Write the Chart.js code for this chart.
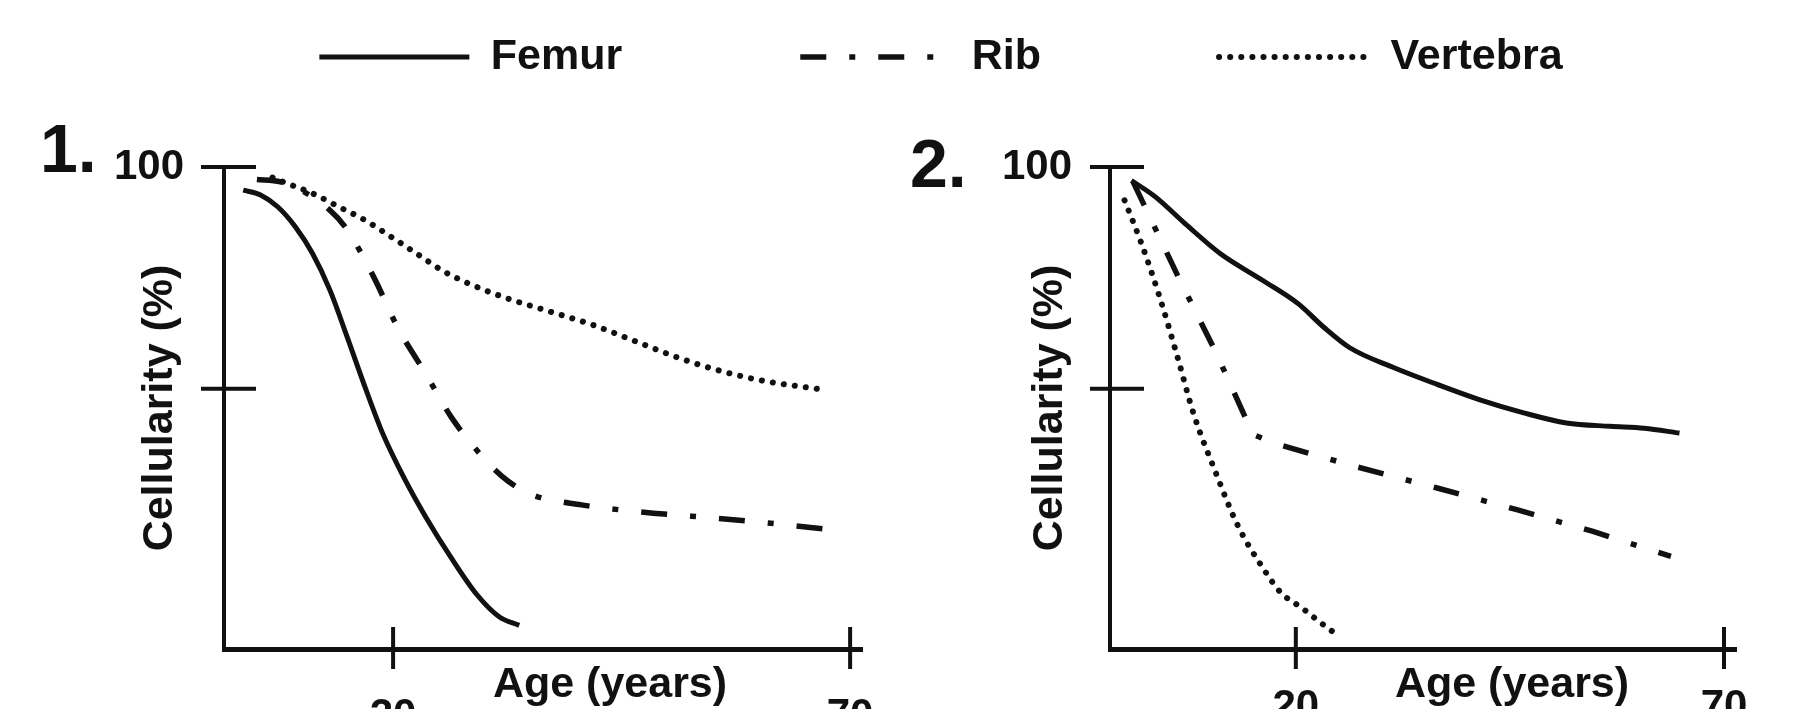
<!DOCTYPE html>
<html>
<head>
<meta charset="utf-8">
<title>Cellularity by age</title>
<script src="https://cdn.jsdelivr.net/npm/chart.js@4.4.1/dist/chart.umd.min.js"></script>
<style>
  html, body { margin: 0; padding: 0; background: #fff; }
  #wrap { position: relative; width: 1808px; height: 709px; background: #fff; }
  #wrap canvas { position: absolute; left: 0; top: 0; }
</style>
</head>
<body>
<div id="wrap">
  <canvas id="panel1" width="1808" height="709"></canvas>
  <canvas id="panel2" width="1808" height="709"></canvas>
</div>
<script>
// Two panels of marrow cellularity against age, drawn as two overlaid charts.
// Panel 1 carries the shared legend across the top.

const INK = '#111';
const FAMILY = "'Liberation Sans', Arial, Helvetica, sans-serif";

// Panel 1 curves: age (years) and cellularity (%)
const femur1Age = [3.6, 5.5, 7.4, 9.3, 11.2, 13.1, 15.0, 16.9, 18.8, 21.2, 23.6, 26.4, 29.2, 31.6, 33.8];
const femur1Cell = [95.2, 94.2, 91.7, 87.6, 82.0, 74.4, 64.6, 54.5, 45.0, 35.5, 27.3, 18.8, 11.2, 6.7, 4.9];
const rib1Age = [5.1, 7.7, 13.1, 15.0, 17.9, 20.5, 23.6, 26.4, 30.4, 32.6, 35.2, 40.6, 46.8, 55.6, 61.3, 68.2];
const rib1Cell = [97.4, 96.9, 91.0, 86.9, 77.1, 66.7, 57.0, 48.0, 38.6, 34.8, 32.0, 29.9, 28.5, 27.1, 26.1, 24.7];
const vert1Age = [6.8, 8.4, 11.2, 14.1, 16.9, 19.8, 22.6, 25.4, 28.3, 32.1, 36.8, 41.6, 46.3, 51.1, 55.8, 60.6, 66.7];
const vert1Cell = [97.8, 96.6, 94.5, 91.7, 89.0, 85.5, 82.0, 78.5, 75.8, 73.0, 70.2, 67.4, 64.0, 60.5, 57.7, 55.6, 53.9];

// Panel 2 curves
const femur2Age = [0.8, 3.6, 7.1, 11.2, 16.2, 20.3, 23.3, 26.3, 31.4, 36.5, 41.5, 46.6, 51.6, 56.7, 60.7, 64.8];
const femur2Cell = [97.2, 93.8, 88.2, 82.0, 76.4, 71.6, 66.7, 62.5, 58.4, 54.9, 51.7, 49.0, 46.9, 46.2, 45.8, 44.8];
const rib2Age = [1.0, 6.3, 10.6, 15.0, 18.0, 27.1, 36.5, 45.8, 54.7, 63.8];
const rib2Cell = [96.9, 77.1, 61.8, 44.5, 42.4, 37.8, 33.4, 28.9, 24.4, 19.2];
const vert2Age = [0.0, 2.0, 4.1, 6.1, 8.1, 10.6, 13.2, 16.2, 18.2, 20.8, 22.8, 24.6];
const vert2Cell = [93.1, 84.0, 73.0, 61.1, 48.6, 36.8, 25.7, 16.7, 11.8, 8.4, 5.6, 3.2];

// Axis ticks: only 100 carries a label on the y axis
const X_TICKS = [20, 70];
const Y_TICKS = [54, 100];
const Y_LABELED = [100];

const SERIES = ['Femur', 'Rib', 'Vertebra'];

const LINE_STYLE = {
  Femur: { borderWidth: 5, borderDash: [], borderCapStyle: 'butt', cubicInterpolationMode: 'monotone' },
  Rib: { borderWidth: 5.5, borderDash: [26, 23, 6, 23], borderCapStyle: 'butt', cubicInterpolationMode: 'monotone' },
  Vertebra: { borderWidth: 6, borderDash: [0.1, 11], borderCapStyle: 'round', cubicInterpolationMode: 'monotone' }
};

function points(ages, cells) {
  return ages.map((a, i) => ({ x: a, y: cells[i] }));
}

function dataset(name, ages, cells, extra) {
  return Object.assign({
    label: name,
    data: points(ages, cells),
    borderColor: INK,
    backgroundColor: 'transparent',
    pointRadius: 0,
    fill: false,
    borderJoinStyle: 'round'
  }, LINE_STYLE[name], extra || {});
}

// legend samples take dash, cap and width from the line itself
function legendLabels(chart) {
  const items = Chart.defaults.plugins.legend.labels.generateLabels(chart);
  return items.map(item => {
    const ds = chart.data.datasets[item.datasetIndex];
    return Object.assign(item, {
      strokeStyle: INK,
      fillStyle: 'transparent',
      lineDash: ds.borderDash,
      lineCap: ds.borderCapStyle,
      lineWidth: ds.borderWidth
    });
  });
}

// tick marks that cross the axis line on both sides
const crossTicks = {
  id: 'crossTicks',
  afterDatasetsDraw(chart, args, opts) {
    const { ctx } = chart;
    const x = chart.scales.x, y = chart.scales.y;
    ctx.save();
    ctx.strokeStyle = INK;
    ctx.lineWidth = opts.width;
    ctx.beginPath();
    x.ticks.forEach(t => {
      const px = x.getPixelForValue(t.value);
      ctx.moveTo(px, x.top - opts.up);
      ctx.lineTo(px, x.top + opts.down);
    });
    y.ticks.forEach(t => {
      const py = y.getPixelForValue(t.value);
      ctx.moveTo(y.right - opts.left, py);
      ctx.lineTo(y.right + opts.right, py);
    });
    ctx.stroke();
    ctx.restore();
  }
};

// panel number and the x axis title
const panelText = {
  id: 'panelText',
  afterDraw(chart, args, opts) {
    const ctx = chart.ctx;
    ctx.save();
    ctx.fillStyle = INK;
    ctx.textBaseline = 'alphabetic';
    ctx.textAlign = 'left';
    ctx.font = `bold 68px ${FAMILY}`;
    ctx.fillText(opts.number, opts.numberX, opts.numberY);
    ctx.textAlign = 'center';
    ctx.font = `bold 43px ${FAMILY}`;
    ctx.fillText(opts.title, opts.titleX, opts.titleY);
    ctx.restore();
  }
};

// wide legend spacing comes from labels.padding; lift the box top (the bottom
// stays put so the legend clip still covers the row)
const legendNudge = {
  id: 'legendNudge',
  afterLayout(chart, args, opts) {
    const lg = chart.legend;
    if (!lg) return;
    lg.left += opts.dx;
    lg.right += opts.dx;
    lg.top += opts.dy;
  }
};

function scales(p) {
  const tickFont = { family: FAMILY, size: 42, weight: 'bold' };
  return {
    x: {
      type: 'linear',
      min: p.xMin,
      max: p.xMax,
      afterBuildTicks: s => { s.ticks = X_TICKS.map(v => ({ value: v })); },
      afterFit: s => { s.height = 709 - 649; },
      grid: { display: false },
      border: { display: true, color: INK, width: 5 },
      ticks: { color: INK, font: tickFont, padding: p.xLabelPad, maxRotation: 0, callback: v => String(v) }
    },
    y: {
      type: 'linear',
      min: 0,
      max: 100,
      afterBuildTicks: s => { s.ticks = Y_TICKS.map(v => ({ value: v })); },
      afterFit: s => { s.width = p.yWidth; },
      grid: { display: false },
      border: { display: true, color: INK, width: 4 },
      ticks: { color: INK, font: tickFont, padding: p.yLabelPad, callback: v => (Y_LABELED.includes(v) ? String(v) : '') },
      title: {
        display: true,
        text: 'Cellularity (%)',
        color: INK,
        font: { family: FAMILY, size: 43, weight: 'bold' },
        padding: { top: p.yTitlePad, bottom: 0 }
      }
    }
  };
}

// ---- panel 1 (with legend) ----
const scales1 = scales({ xMin: 1.5, xMax: 71.3, xLabelPad: 34, yWidth: 224, yLabelPad: 32, yTitlePad: 134 });
// empty right-hand axis keeps the plot on the left half while the legend spans the page
scales1.gap = {
  type: 'linear',
  position: 'right',
  display: true,
  grid: { display: false },
  border: { display: false },
  ticks: { display: false },
  afterFit: s => { s.width = 1808 - 862; }
};

new Chart(document.getElementById('panel1'), {
  type: 'line',
  data: {
    datasets: [
      dataset(SERIES[0], femur1Age, femur1Cell),
      dataset(SERIES[1], rib1Age, rib1Cell),
      dataset(SERIES[2], vert1Age, vert1Cell)
    ]
  },
  options: {
    responsive: false,
    animation: false,
    layout: { padding: { left: 0, right: 0, top: 0, bottom: 0 } },
    scales: scales1,
    plugins: {
      tooltip: { enabled: false },
      legend: {
        display: true,
        position: 'top',
        maxHeight: 167,
        labels: {
          usePointStyle: true,
          pointStyle: 'line',
          pointStyleWidth: 150,
          padding: 178,
          color: INK,
          font: { family: FAMILY, size: 43, weight: 'bold' },
          generateLabels: legendLabels
        }
      },
      legendNudge: { dx: 37, dy: -142.5 },
      crossTicks: { width: 4, up: 22, down: 20, left: 23, right: 32 },
      panelText: { number: '1.', numberX: 40, numberY: 172, title: 'Age (years)', titleX: 610, titleY: 697 }
    }
  },
  plugins: [legendNudge, crossTicks, panelText]
});

// ---- panel 2 ----
new Chart(document.getElementById('panel2'), {
  type: 'line',
  data: {
    datasets: [
      dataset(SERIES[0], femur2Age, femur2Cell),
      dataset(SERIES[1], rib2Age, rib2Cell, { cubicInterpolationMode: 'default', tension: 0 }),
      dataset(SERIES[2], vert2Age, vert2Cell)
    ]
  },
  options: {
    responsive: false,
    animation: false,
    layout: { padding: { left: 990, right: 72, top: 167, bottom: 0 } },
    scales: scales({ xMin: -1.7, xMax: 71.4, xLabelPad: 25, yWidth: 120, yLabelPad: 30, yTitlePad: 34 }),
    plugins: {
      tooltip: { enabled: false },
      legend: { display: false },
      crossTicks: { width: 4, up: 22, down: 20, left: 20, right: 34 },
      panelText: { number: '2.', numberX: 910, numberY: 187, title: 'Age (years)', titleX: 1512, titleY: 697 }
    }
  },
  plugins: [crossTicks, panelText]
});
</script>
</body>
</html>
